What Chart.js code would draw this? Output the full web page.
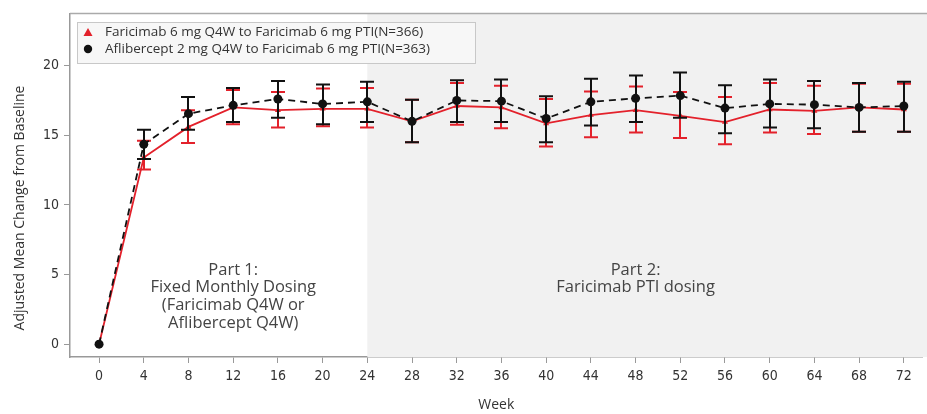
<!DOCTYPE html>
<html lang="en">
<head>
  <meta charset="UTF-8" />
  <title>Adjusted Mean Change from Baseline by Week</title>
  <script src="https://cdn.jsdelivr.net/npm/chart.js"></script>
  <style>
    html, body { margin: 0; padding: 0; background: #fff; }
    #wrap { width: 927px; height: 414px; }
  </style>
</head>
<body>
<div id="wrap"><canvas id="lineChart" width="927" height="414"></canvas></div>

<script>
  // weeks on the x axis
  const weeks = [0, 4, 8, 12, 16, 20, 24, 28, 32, 36, 40, 44, 48, 52, 56, 60, 64, 68, 72];
  const yTicks = [0, 5, 10, 15, 20];

  // Faricimab 6 mg Q4W -> Faricimab 6 mg PTI (red)
  const faricimabMean = [0, 13.4, 15.6, 17.0, 16.8, 16.9, 16.9, 16.0, 17.1, 17.0, 15.85, 16.45, 16.8, 16.4, 15.95, 16.85, 16.75, 17.0, 16.85];
  const faricimabLow  = [null, 12.55, 14.45, 15.8, 15.55, 15.65, 15.55, 14.5, 15.75, 15.5, 14.2, 14.85, 15.2, 14.8, 14.35, 15.2, 15.1, 15.25, 15.25];
  const faricimabHigh = [null, 14.6, 16.8, 18.25, 18.1, 18.35, 18.4, 17.55, 18.75, 18.55, 17.6, 18.15, 18.5, 18.1, 17.75, 18.75, 18.55, 18.7, 18.7];

  // Aflibercept 2 mg Q4W -> Faricimab 6 mg PTI (black)
  const afliberceptMean = [0, 14.35, 16.55, 17.15, 17.6, 17.25, 17.4, 16.0, 17.5, 17.45, 16.2, 17.4, 17.65, 17.85, 16.95, 17.25, 17.2, 17.0, 17.1];
  const afliberceptLow  = [null, 13.3, 15.4, 15.95, 16.25, 15.8, 15.95, 14.5, 15.95, 15.95, 14.5, 15.7, 15.95, 16.25, 15.15, 15.55, 15.5, 15.25, 15.25];
  const afliberceptHigh = [null, 15.4, 17.75, 18.4, 18.9, 18.65, 18.85, 17.55, 18.95, 19.0, 17.8, 19.05, 19.3, 19.5, 18.6, 19.0, 18.9, 18.75, 18.85];

  const seriesLabels = [
    'Faricimab 6 mg Q4W to Faricimab 6 mg PTI(N=366)',
    'Aflibercept 2 mg Q4W to Faricimab 6 mg PTI(N=363)'
  ];
  const partStartWeek = 24;

  const RED = '#e3212b';
  const BLACK = '#111111';
  const textFont = '"Open Sans", "Noto Sans", sans-serif';
  const tickFont = '"DejaVu Sans Condensed", "Liberation Sans Narrow", "DejaVu Sans", sans-serif';

  const errLow = [faricimabLow, afliberceptLow];
  const errHigh = [faricimabHigh, afliberceptHigh];

  // grey background for Part 2, annotations and frame
  const backdrop = {
    id: 'backdrop',
    beforeDatasetsDraw(chart) {
      const { ctx, chartArea: a, scales: { x } } = chart;
      const x0 = x.getPixelForValue(partStartWeek);
      ctx.save();
      ctx.fillStyle = '#f1f1f1';
      ctx.fillRect(x0, a.top, chart.width - x0, a.bottom - a.top);

      ctx.fillStyle = '#444';
      ctx.font = '16.5px ' + textFont;
      ctx.textAlign = 'center';
      ctx.textBaseline = 'middle';
      const x1 = x.getPixelForValue(12);
      ['Part 1:', 'Fixed Monthly Dosing', '(Faricimab Q4W or', 'Aflibercept Q4W)']
        .forEach((t, i) => ctx.fillText(t, x1, 270 + i * 17.7));
      const x2 = x.getPixelForValue(48);
      ['Part 2:', 'Faricimab PTI dosing']
        .forEach((t, i) => ctx.fillText(t, x2, 270 + i * 17.7));

      ctx.strokeStyle = '#aaa';
      ctx.lineWidth = 1.5;
      ctx.beginPath();
      ctx.moveTo(a.left, a.top); ctx.lineTo(chart.width, a.top);
      ctx.stroke();
      ctx.restore();
    },
    afterDraw(chart) {
      // y axis title, placed a little below the middle like the original
      const { ctx } = chart;
      ctx.save();
      ctx.translate(20, 208);
      ctx.rotate(-Math.PI / 2);
      ctx.font = '14px ' + textFont;
      ctx.fillStyle = '#333';
      ctx.textAlign = 'center';
      ctx.textBaseline = 'middle';
      ctx.fillText('Adjusted Mean Change from Baseline', 0, 0);
      ctx.restore();
    }
  };

  // error bars drawn right after their own dataset
  const errorBars = {
    id: 'errorBars',
    afterDatasetDraw(chart, args) {
      const i = args.index;
      const ds = chart.data.datasets[i];
      const { ctx, scales: { x, y } } = chart;
      const lo = errLow[i], hi = errHigh[i];
      ctx.save();
      ctx.strokeStyle = ds.borderColor;
      ctx.lineWidth = 2;
      ctx.setLineDash([]);
      const cap = 7;
      weeks.forEach((w, k) => {
        if (lo[k] == null || hi[k] == null) return;
        const px = Math.round(x.getPixelForValue(w));
        const yl = y.getPixelForValue(lo[k]);
        const yh = y.getPixelForValue(hi[k]);
        ctx.beginPath();
        ctx.moveTo(px, yl); ctx.lineTo(px, yh);
        ctx.moveTo(px - cap, yl); ctx.lineTo(px + cap, yl);
        ctx.moveTo(px - cap, yh); ctx.lineTo(px + cap, yh);
        ctx.stroke();
      });
      ctx.restore();
    }
  };

  // legend box inside the plot, top-left
  const insideLegend = {
    id: 'insideLegend',
    afterDraw(chart) {
      const { ctx } = chart;
      ctx.save();
      ctx.fillStyle = '#f7f7f7';
      ctx.fillRect(77, 22, 398, 41);
      ctx.strokeStyle = '#c8c8c8';
      ctx.lineWidth = 1;
      ctx.strokeRect(77.5, 22.5, 398, 41);
      ctx.font = '13.5px ' + textFont;
      ctx.textBaseline = 'middle';
      ctx.fillStyle = '#333';
      ctx.fillText(seriesLabels[0], 105, 32);
      ctx.fillText(seriesLabels[1], 105, 49);
      ctx.fillStyle = RED;
      ctx.beginPath();
      ctx.moveTo(88, 28); ctx.lineTo(92.5, 36); ctx.lineTo(83.5, 36); ctx.closePath();
      ctx.fill();
      ctx.fillStyle = BLACK;
      ctx.beginPath();
      ctx.arc(88, 49, 4.2, 0, Math.PI * 2);
      ctx.fill();
      ctx.restore();
    }
  };

  const ctx = document.getElementById('lineChart').getContext('2d');
  new Chart(ctx, {
    type: 'line',
    data: {
      datasets: [
        {
          label: seriesLabels[0],
          data: weeks.map((w, k) => ({ x: w, y: faricimabMean[k] })),
          borderColor: RED,
          backgroundColor: RED,
          borderWidth: 1.8,
          pointStyle: 'triangle',
          pointRadius: 3.5,
          pointBorderWidth: 0,
          tension: 0,
          order: 1
        },
        {
          label: seriesLabels[1],
          data: weeks.map((w, k) => ({ x: w, y: afliberceptMean[k] })),
          borderColor: BLACK,
          backgroundColor: BLACK,
          borderWidth: 1.8,
          borderDash: [7, 5],
          pointStyle: 'circle',
          pointRadius: 4.5,
          pointBorderWidth: 0,
          tension: 0,
          order: 0
        }
      ]
    },
    options: {
      responsive: false,
      animation: false,
      layout: { padding: { top: 8, right: 0, left: 0, bottom: 0 } },
      plugins: {
        legend: { display: false },
        tooltip: { enabled: false }
      },
      scales: {
        x: {
          type: 'linear',
          min: -2.6,
          max: 73.67,
          afterBuildTicks: s => { s.ticks = weeks.map(v => ({ value: v })); },
          afterFit: s => { s.height = 57; },
          grid: { drawOnChartArea: false, tickLength: 6, color: '#999' },
          border: { color: '#999', width: 1.5 },
          ticks: {
            autoSkip: false,
            maxRotation: 0,
            padding: 5,
            color: '#333',
            font: { family: tickFont, size: 14 }
          },
          title: {
            display: true,
            text: 'Week',
            color: '#333',
            padding: { top: 0, bottom: 1 },
            font: { family: textFont, size: 14 }
          }
        },
        y: {
          min: -0.92,
          max: 23.75,
          afterBuildTicks: s => { s.ticks = yTicks.map(v => ({ value: v })); },
          afterFit: s => { s.width = 70; },
          grid: { drawOnChartArea: false, tickLength: 6, color: '#999' },
          border: { color: '#999', width: 1.5 },
          ticks: {
            padding: 5,
            color: '#333',
            font: { family: tickFont, size: 14 }
          }
        }
      }
    },
    plugins: [backdrop, errorBars, insideLegend]
  });
</script>
</body>
</html>
